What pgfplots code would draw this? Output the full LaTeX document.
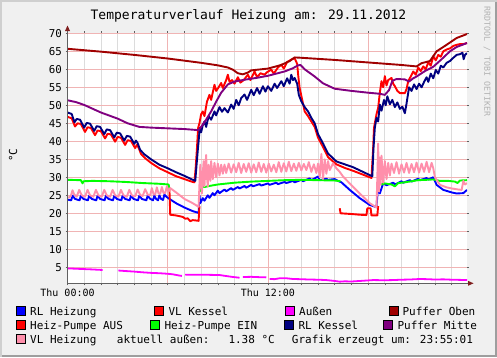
\documentclass[border=0pt]{standalone}
\usepackage{pgfplots}
\pgfplotsset{compat=1.18}
\usepackage{fontspec}
\setmainfont{DejaVu Sans Mono}
\setmonofont{DejaVu Sans Mono}
\definecolor{bgc}{HTML}{F0F0F0}
\definecolor{shadeA}{HTML}{CFCFCF}
\definecolor{shadeB}{HTML}{9E9E9E}
\definecolor{gridc}{HTML}{DCDCDC}
\definecolor{mgridc}{HTML}{F0B4B4}
\definecolor{arrowc}{HTML}{801F1F}
\definecolor{axisc}{HTML}{606060}
\definecolor{rlheiz}{HTML}{0000FF}
\definecolor{vlkessel}{HTML}{FF0000}
\definecolor{aussen}{HTML}{FF00FF}
\definecolor{pufferoben}{HTML}{A00000}
\definecolor{hpaus}{HTML}{FF0000}
\definecolor{hpein}{HTML}{00FF00}
\definecolor{rlkessel}{HTML}{000080}
\definecolor{puffermitte}{HTML}{800080}
\definecolor{vlheiz}{HTML}{FF8FAB}
\newcommand{\fs}[1]{\fontsize{#1bp}{#1bp}\selectfont}
\begin{document}
\begin{tikzpicture}[x=1bp,y=1bp]
\useasboundingbox (0,0) rectangle (497,357);
\fill[bgc] (0,0) rectangle (497,357);
\fill[shadeA] (0,355) rectangle (497,357);
\fill[shadeA] (0,0) rectangle (2,357);
\fill[shadeB] (495,0) rectangle (497,355);
\fill[shadeB] (2,0) rectangle (497,2);
\begin{axis}[
  at={(67.5bp,73.7bp)}, anchor=south west,
  scale only axis, width=399.5bp, height=250bp,
  xmin=0, xmax=23.92, ymin=0.55, ymax=70,
  axis background/.style={fill=white},
  axis line style={draw=none},
  xtick={0,6,12,18}, xticklabels={Thu 00:00,,Thu 12:00,},
  minor xtick={1,2,3,4,5,7,8,9,10,11,13,14,15,16,17,19,20,21,22,23},
  ytick={5,10,...,70},
  grid=both,
  major grid style={draw=mgridc, line width=0.8bp},
  minor grid style={draw=gridc, line width=0.8bp},
  tick align=outside, major tick length=2bp, minor tick length=2bp,
  tick style={draw=axisc, line width=0.6bp},
  /pgf/number format/assume math mode=true,
  xticklabel style={font=\fs{10}, text=black},
  yticklabel style={font=\fs{10.8}, text=black},
  unbounded coords=jump,
  every axis plot/.append style={line width=1.9bp, line join=round, no markers},
]
% RL Heizung
\addplot[rlheiz] coordinates {(0,23.8) (0.22,23.6) (0.3,24.9) (0.45,24.0) (0.72,23.6) (0.8,24.9) (0.95,24.0) (1.22,23.6) (1.3,24.9) (1.45,24.0) (1.72,23.6) (1.8,24.9) (1.95,24.0) (2.22,23.6) (2.3,24.9) (2.45,24.0) (2.72,23.6) (2.8,24.9) (2.95,24.0) (3.22,23.6) (3.3,24.9) (3.45,24.0) (3.72,23.6) (3.8,24.9) (3.95,24.0) (4.22,23.6) (4.3,24.9) (4.45,24.0) (4.72,23.6) (4.8,24.9) (4.95,24.0) (5.12,23.6) (5.2,24.9) (5.3,24.0) (5.42,23.6) (5.5,25.0) (5.6,24.0) (5.72,23.7) (5.8,25.2) (5.95,24.5) (6.1,24.0) (6.5,22.8) (7.0,21.6) (7.5,20.6) (7.85,20.1) (7.9,25.0) (7.95,22.8) (8.1,24.2) (8.2,23.5) (8.4,25.0) (8.5,24.3) (8.7,25.6) (8.8,25.0) (9.0,26.3) (9.1,25.6) (9.4,26.6) (9.5,26.1) (9.8,27.0) (9.9,26.5) (10.2,27.3) (10.3,26.9) (10.6,27.6) (10.7,27.1) (11.0,27.9) (11.1,27.5) (11.5,28.1) (11.6,27.7) (12.0,28.3) (12.1,27.9) (12.5,28.5) (12.6,28.1) (13.0,28.7) (13.1,28.4) (13.5,29.0) (13.6,28.6) (14.0,29.3) (14.1,28.9) (14.5,29.7) (14.6,29.2) (15.0,30.2) (15.1,29.2) (15.5,29.6) (15.6,29.3) (16.0,29.5) (16.2,29.0) (16.4,28.6) (16.9,26.5) (17.5,24.2) (18.1,22.3) (18.5,21.7) (18.6,27.9) (18.7,25.5) (18.9,28.3) (19.1,27.8) (19.5,28.5) (19.6,28.0) (20.0,28.9) (20.1,28.5) (20.5,29.2) (20.6,28.8) (21.0,29.6) (21.1,29.2) (21.5,29.8) (21.6,29.4) (21.9,30.0) (22.1,27.9) (22.5,26.5) (23.0,25.8) (23.3,25.5) (23.7,25.6) (23.92,26.5)};
% VL Kessel
\addplot[vlkessel] coordinates {(0,46.8) (0.25,46.4) (0.45,44.1) (0.6,45.0) (0.8,44.8) (1.05,42.6) (1.2,43.9) (1.4,43.7) (1.65,41.7) (1.8,43.0) (2.0,42.8) (2.25,40.8) (2.4,42.1) (2.6,41.9) (2.85,39.9) (3.0,41.2) (3.2,41.0) (3.45,39.0) (3.6,40.3) (3.8,40.1) (4.05,38.1) (4.15,39.0) (4.25,38.3) (4.4,36.5) (4.65,35.3) (5.0,34.0) (5.5,32.5) (6.0,31.4) (6.5,30.3) (7.0,29.5) (7.43,28.8) (7.6,28.6) (7.68,33.0) (7.75,38.0) (7.82,43.7) (7.9,45.0) (8.0,47.5) (8.1,48.3) (8.2,47.0) (8.35,51.0) (8.5,52.9) (8.6,51.5) (8.8,55.7) (8.9,54.0) (9.05,55.0) (9.2,56.2) (9.3,54.8) (9.5,57.0) (9.6,58.5) (9.7,56.5) (9.85,57.0) (10.0,56.0) (10.2,57.8) (10.35,56.3) (10.55,57.0) (10.8,58.5) (10.95,57.0) (11.2,59.4) (11.35,57.8) (11.55,58.9) (11.8,58.5) (11.95,59.2) (12.2,59.9) (12.35,58.8) (12.6,60.5) (12.8,61.3) (12.95,60.2) (13.15,62.0) (13.4,62.7) (13.6,63.1) (13.75,61.5) (13.82,58.0) (13.9,54.8) (14.2,48.3) (14.4,47.0) (14.6,45.5) (14.8,44.0) (15.0,41.0) (15.3,38.4) (15.6,35.6) (16.1,33.6) (16.6,32.6) (17.1,31.8) (17.6,30.9) (18.1,30.0) (18.2,29.8) (18.3,38.0) (18.35,43.7) (18.5,47.5) (18.6,49.3) (18.7,53.5) (18.8,56.7) (18.9,55.0) (19.0,58.1) (19.1,55.5) (19.2,57.0) (19.4,57.6) (19.5,56.0) (19.6,55.3) (19.75,54.0) (19.9,53.4) (20.2,53.4) (20.3,54.5) (20.4,56.7) (20.55,58.0) (20.7,59.4) (20.85,58.5) (21.0,60.5) (21.15,59.5) (21.3,60.8) (21.45,60.0) (21.6,62.0) (21.75,61.0) (21.9,63.6) (22.05,62.5) (22.2,64.0) (22.35,63.5) (22.5,65.0) (22.7,65.5) (22.9,65.8) (23.1,66.5) (23.3,66.8) (23.5,67.0) (23.7,67.0) (23.92,67.3)};
% Aussen
\addplot[aussen, line width=1.8bp] coordinates {(0,4.7) (0.5,4.6) (1.0,4.5) (1.5,4.4) (2.1,4.25) (2.5,nan) (3.05,4.1) (3.5,3.95) (4.0,3.8) (4.5,3.6) (5.0,3.45) (5.5,3.35) (6.0,3.2) (6.3,3.05) (6.7,2.7) (6.85,2.6) (6.95,nan) (7.05,2.9) (7.6,2.95) (8.0,2.95) (8.5,2.9) (9.1,2.85) (9.6,2.5) (10.0,2.25) (10.3,2.1) (10.4,nan) (10.5,2.3) (11.0,2.35) (11.5,2.25) (11.9,2.2) (12.0,nan) (12.1,1.75) (12.4,1.7) (12.7,1.95) (13.1,1.95) (13.5,1.75) (13.9,1.7) (14.5,1.6) (15.0,1.55) (15.5,1.45) (16.0,1.2) (16.3,1.0) (16.6,1.1) (17.0,1.05) (17.5,1.2) (18.0,1.35) (18.3,1.45) (19.0,1.4) (19.5,1.45) (20.0,1.55) (20.5,1.6) (21.1,1.75) (21.5,1.7) (22.0,1.6) (22.5,1.65) (23.0,1.55) (23.5,1.5) (23.92,1.45)};
% Puffer Oben
\addplot[pufferoben] coordinates {(0,65.7) (2,64.9) (4,64.0) (6,63.0) (8,61.8) (9.0,61.1) (9.6,60.5) (9.9,59.9) (10.2,58.9) (10.5,58.6) (10.8,59.1) (11.0,59.7) (12.0,60.2) (12.8,61.2) (13.3,62.3) (13.6,63.3) (14.0,63.2) (16,62.6) (18,61.9) (20,61.2) (20.9,60.8) (21.2,61.7) (21.7,62.3) (22.1,65.0) (22.6,66.5) (23.3,68.7) (23.92,69.8)};
% Heiz-Pumpe AUS
\addplot[hpaus] coordinates {(6.1,27.0) (6.15,19.6) (6.5,19.4) (6.9,19.0) (7.05,18.5) (7.2,18.6) (7.35,17.8) (7.5,18.1) (7.7,18.0) (7.85,17.9) (7.9,22.0) (8.0,nan) (16.3,21.4) (16.35,20.0) (17.0,19.8) (17.5,19.6) (17.9,19.5) (17.95,21.4) (18.15,21.4) (18.2,19.4) (18.55,19.4) (18.6,22.0)};
% Heiz-Pumpe EIN
\addplot[hpein] coordinates {(0,29.3) (0.8,29.2) (0.9,28.3) (0.95,28.9) (1.5,29.0) (2.5,28.9) (3.5,28.7) (4.5,28.4) (5.5,28.2) (6.05,28.0) (6.1,27.0) (7.0,nan) (7.95,26.0) (8.05,27.5) (8.2,27.3) (8.5,27.6) (9.0,28.0) (10,28.5) (11,28.8) (12,29.0) (13,29.2) (14,29.3) (15,29.2) (16,29.1) (16.35,28.9) (17.0,nan) (18.55,27.0) (18.65,28.5) (18.8,28.0) (19.0,28.3) (19.4,28.0) (19.6,27.5) (19.8,28.4) (20.2,28.6) (20.6,28.9) (21.0,29.2) (21.5,29.3) (21.9,29.4) (22.3,29.0) (22.8,29.0) (23.2,28.8) (23.35,28.4) (23.5,29.1) (23.92,29.2)};
% RL Kessel
\addplot[rlkessel] coordinates {(0,48.0) (0.25,47.6) (0.42,45.3) (0.55,46.2) (0.75,46.0) (1.0,43.8) (1.15,45.1) (1.35,44.9) (1.6,42.9) (1.75,44.2) (1.95,44.0) (2.2,42.0) (2.35,43.3) (2.55,43.1) (2.8,41.1) (2.95,42.4) (3.15,42.2) (3.4,40.2) (3.55,41.5) (3.75,41.3) (4.0,39.3) (4.1,40.2) (4.2,39.5) (4.35,37.6) (4.6,36.4) (5.0,35.0) (5.5,33.5) (6.0,32.5) (6.5,31.4) (7.0,30.4) (7.5,29.3) (7.65,29.0) (7.72,33.0) (7.8,37.5) (7.85,40.0) (7.92,43.7) (8.0,42.5) (8.1,44.5) (8.2,45.5) (8.3,44.0) (8.45,47.0) (8.6,46.0) (8.8,48.3) (8.9,47.2) (9.1,49.5) (9.25,48.2) (9.4,49.2) (9.6,48.0) (9.8,50.2) (9.95,49.0) (10.1,51.5) (10.25,50.0) (10.4,52.0) (10.6,53.0) (10.75,51.5) (11.0,54.3) (11.15,52.8) (11.35,54.8) (11.5,53.2) (11.7,55.3) (11.85,53.8) (12.0,55.3) (12.2,54.0) (12.4,56.0) (12.55,54.8) (12.8,56.7) (12.95,55.3) (13.15,57.5) (13.3,56.0) (13.4,58.5) (13.5,57.0) (13.6,57.6) (13.75,56.0) (13.85,52.9) (14.0,51.1) (14.2,49.5) (14.4,48.3) (14.6,46.5) (14.8,45.0) (15.0,42.0) (15.3,39.4) (15.6,36.6) (16.1,34.4) (16.6,33.6) (17.1,32.8) (17.6,31.7) (18.1,30.6) (18.25,30.3) (18.32,38.0) (18.4,43.7) (18.5,46.5) (18.6,45.5) (18.7,50.2) (18.8,48.5) (18.95,51.5) (19.05,50.0) (19.15,52.5) (19.3,50.3) (19.45,51.5) (19.6,49.5) (19.75,50.8) (19.9,49.0) (20.05,49.6) (20.2,47.8) (20.3,50.5) (20.45,55.0) (20.6,54.0) (20.75,55.8) (20.9,54.5) (21.05,56.0) (21.2,55.0) (21.35,56.5) (21.5,57.8) (21.6,56.5) (21.75,58.8) (21.9,57.5) (22.05,59.8) (22.2,58.8) (22.35,61.0) (22.5,60.5) (22.7,61.8) (22.9,62.3) (23.1,63.2) (23.3,64.0) (23.5,64.2) (23.65,64.6) (23.72,62.8) (23.8,64.0) (23.92,64.5)};
% Puffer Mitte
\addplot[puffermitte] coordinates {(0,51.4) (0.5,50.9) (1,50.1) (2,48.0) (3,46.3) (3.6,45.0) (4.3,44.0) (5,43.8) (6,43.6) (7,43.4) (7.85,43.1) (8.0,44.0) (8.3,46.0) (8.6,48.3) (8.9,51.0) (9.2,53.5) (9.6,55.8) (10.0,56.6) (10.6,57.1) (11.3,57.6) (12,58.2) (13,59.4) (13.5,60.3) (13.8,61.1) (13.95,61.2) (14.2,60.0) (14.8,58.0) (15.3,56.1) (16,54.6) (17,54.0) (18,53.5) (18.7,53.2) (19.0,52.9) (19.25,54.2) (19.45,56.8) (19.7,57.3) (20.2,57.2) (20.45,56.6) (20.7,57.5) (20.9,58.0) (21.4,59.5) (21.9,60.7) (22.4,62.8) (22.9,65.0) (23.3,66.2) (23.92,67.3)};
% VL Heizung
\addplot[vlheiz] coordinates {(0.05,24.3) (0.2,24.8) (0.3,26.4) (0.4,25.2) (0.55,24.6) (0.7,26.5) (0.85,25.0) (1.05,24.6) (1.2,26.5) (1.35,25.0) (1.55,24.6) (1.7,26.5) (1.85,25.0) (2.05,24.6) (2.2,26.5) (2.35,25.0) (2.55,24.6) (2.7,26.5) (2.85,25.0) (3.05,24.6) (3.2,26.5) (3.35,25.0) (3.55,24.6) (3.7,26.5) (3.85,25.0) (4.05,24.7) (4.2,26.6) (4.35,25.1) (4.5,24.8) (4.65,26.7) (4.8,25.2) (4.95,25.0) (5.05,27.0) (5.15,25.3) (5.25,25.2) (5.35,27.2) (5.45,25.5) (5.55,25.4) (5.65,27.3) (5.75,25.6) (5.85,25.6) (5.95,27.5) (6.05,26.0) (6.15,27.0) (6.5,25.8) (7.0,24.0) (7.5,22.8) (7.85,21.8) (7.9,28.0) (7.95,33.5) (8.0,29.0) (8.05,25.5) (8.1,31.0) (8.15,34.5) (8.2,27.5) (8.3,36.2) (8.35,30.0) (8.4,27.5) (8.45,33.5) (8.55,29.0) (8.6,34.5) (8.7,29.5) (8.8,34.0) (8.9,30.0) (9.0,33.8) (9.1,30.5) (9.2,33.5) (9.3,31.0) (9.4,33.5) (9.5,31.2) (9.65,33.8) (9.8,31.3) (9.95,33.6) (10.1,31.4) (10.25,34.0) (10.4,31.2) (10.55,33.7) (10.7,31.5) (10.85,33.9) (11.0,31.3) (11.15,33.6) (11.3,31.4) (11.45,34.1) (11.6,31.5) (11.75,33.7) (11.9,31.3) (12.05,33.8) (12.2,31.6) (12.35,33.5) (12.5,31.4) (12.65,34.2) (12.8,31.5) (12.95,33.9) (13.1,31.6) (13.25,34.3) (13.4,31.7) (13.55,33.8) (13.7,31.8) (13.85,34.0) (14.0,31.9) (14.15,33.7) (14.3,32.0) (14.45,34.2) (14.6,31.5) (14.75,33.6) (14.9,31.2) (15.0,33.8) (15.1,30.0) (15.2,36.5) (15.3,29.5) (15.4,35.0) (15.5,31.0) (15.6,34.5) (15.7,32.0) (15.9,33.9) (16.1,32.5) (16.3,31.5) (16.5,30.2) (17.0,27.8) (17.5,25.5) (18.1,22.8) (18.5,21.6) (18.55,30.0) (18.6,39.4) (18.65,26.0) (18.7,35.5) (18.75,28.0) (18.8,36.0) (18.9,28.5) (19.0,34.5) (19.1,29.5) (19.2,34.0) (19.3,30.5) (19.4,33.8) (19.55,31.2) (19.7,34.2) (19.85,31.0) (20.0,33.6) (20.15,31.3) (20.3,34.0) (20.45,31.2) (20.6,33.7) (20.75,31.4) (20.9,34.1) (21.05,31.3) (21.2,33.8) (21.35,31.5) (21.5,34.3) (21.65,31.4) (21.8,34.0) (21.9,32.5) (22.0,30.0) (22.3,27.9) (22.7,27.2) (23.0,26.9) (23.4,26.6) (23.6,26.5) (23.7,29.0) (23.8,28.0) (23.92,28.4)};
\end{axis}
% axes with arrows
\draw[axisc, line width=1bp] (67.5,73.7) -- (469,73.7);
\draw[axisc, line width=1bp] (67.5,73.7) -- (67.5,327);
\fill[arrowc] (468,76.2) -- (473.5,73.7) -- (468,71.2) -- cycle;
\fill[arrowc] (65,326) -- (67.5,331.5) -- (70,326) -- cycle;
% title and labels
\node[font=\fs{13}] at (248.5,341) {Temperaturverlauf Heizung am: 29.11.2012};
\node[font=\fs{11}, rotate=90] at (13,202) {°C};
\node[font=\fs{8.3}, rotate=-90, text=black!30] at (487,295.3) {RRDTOOL / TOBI OETIKER};
% legend
\tikzset{lsq/.style={draw=black, line width=0.7bp}, ltx/.style={anchor=base west, inner sep=0, font=\fs{11}}}
\fill[rlheiz,lsq] (16,41.5) rectangle (25,50.5); \node[ltx] at (30,42) {RL Heizung};
\fill[vlkessel,lsq] (154,41.5) rectangle (163,50.5); \node[ltx] at (168.3,42) {VL Kessel};
\fill[aussen,lsq] (285.5,41.5) rectangle (294.5,50.5); \node[ltx] at (299,42) {Außen};
\fill[pufferoben,lsq] (389,41.5) rectangle (398,50.5); \node[ltx] at (402.3,42) {Puffer Oben};
\fill[hpaus,lsq] (16,27.5) rectangle (25,36.5); \node[ltx] at (30,28) {Heiz-Pumpe AUS};
\fill[hpein,lsq] (150.5,27.5) rectangle (159.5,36.5); \node[ltx] at (164.3,28) {Heiz-Pumpe EIN};
\fill[rlkessel,lsq] (284.7,27.5) rectangle (293.7,36.5); \node[ltx] at (298.3,28) {RL Kessel};
\fill[puffermitte,lsq] (383.7,27.5) rectangle (392.7,36.5); \node[ltx] at (397.3,28) {Puffer Mitte};
\fill[vlheiz,lsq] (16,13.5) rectangle (25,22.5); \node[ltx] at (30,14) {VL Heizung};
\node[ltx] at (116.7,14) {aktuell außen:};
\node[ltx] at (228.3,14) {1.38 °C};
\node[ltx] at (291.7,14) {Grafik erzeugt um: 23:55:01};
\end{tikzpicture}
\end{document}
